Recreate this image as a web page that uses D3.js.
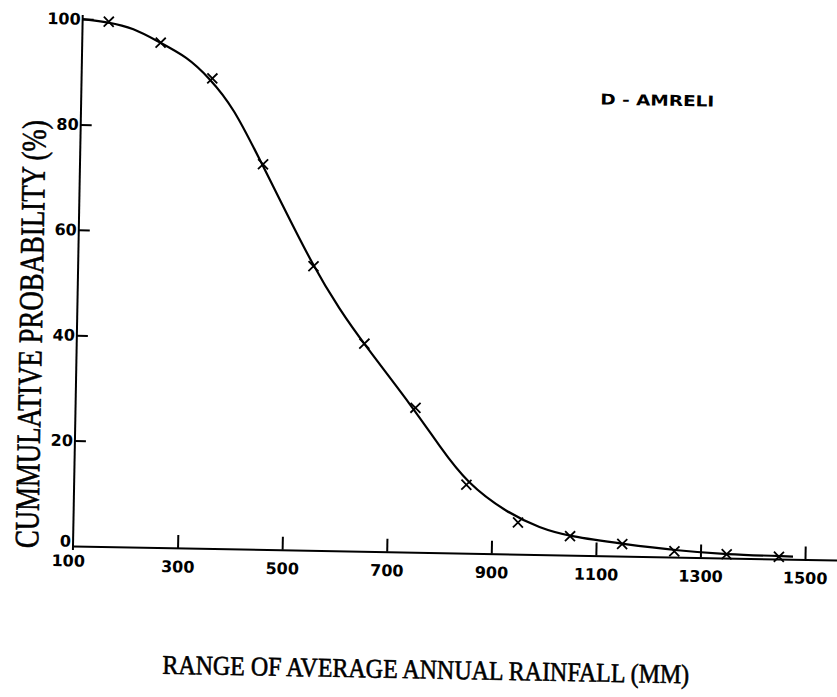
<!DOCTYPE html>
<html lang="en">
<head>
<meta charset="utf-8">
<script src="https://d3js.org/d3.v7.min.js"></script>
<style>
  body { margin: 0; background: #fff; }
  .axis path, .axis line { stroke: #000; stroke-width: 2px; }
  .axis text {
    font-family: "DejaVu Sans", sans-serif;
    font-weight: bold;
    font-size: 16px;
    fill: #000;
  }
  .title {
    font-family: "Liberation Serif", serif;
    fill: #000;
    stroke: #000;
    stroke-width: 0.6px;
  }
  .note {
    font-family: "DejaVu Sans", sans-serif;
    font-weight: bold;
    font-size: 15px;
    fill: #000;
  }
</style>
</head>
<body>
<div id="chart"></div>
<script>
// rainfall class points (mm) and cumulative probability (%)
var rainfall    = [150, 250, 350, 450, 550, 650, 750, 850, 950, 1050, 1150, 1250, 1350, 1450];
var probability = [99.6, 95.8, 89.2, 73.1, 53.9, 39.4, 27.4, 13.0, 6.0, 3.6, 2.3, 1.1, 0.7, 0.4];

// fitted curve as drawn on the sheet
var fitX = [100, 149, 197, 247, 301, 344, 391, 448, 484, 549, 602, 648, 744, 798, 851, 929, 993, 1046, 1152, 1261, 1343, 1477];
var fitY = [100, 99.5, 98.5, 95.9, 93.2, 89.3, 83.9, 73.1, 66.3, 54.0, 45.7, 39.5, 27.6, 20.1, 13.3, 7.8, 5.0, 3.6, 2.3, 1.2, 0.7, 0.5];

var xTicks = [100, 300, 500, 700, 900, 1100, 1300, 1500];
var yTicks = [0, 20, 40, 60, 80, 100];

var width = 837, height = 697;
var origin = { x: 73, y: 546 };   // bottom-left corner of the plot
var tilt = 1.05;                   // the scanned page is slightly rotated

var svg = d3.select("#chart").append("svg")
    .attr("width", width)
    .attr("height", height);

var g = svg.append("g")
    .attr("transform", "translate(" + origin.x + "," + origin.y + ") rotate(" + tilt + ")");

var x = d3.scaleLinear().domain([100, 1561]).range([0, 764]);
var y = d3.scaleLinear().domain([0, 100]).range([0, -527]);

// x axis, ticks pointing up
var xAxis = g.append("g")
    .attr("class", "axis")
    .call(d3.axisBottom(x).tickValues(xTicks).tickSize(-13).tickSizeOuter(0).tickFormat(d3.format("d")));
xAxis.selectAll(".tick text").attr("y", 13).attr("dy", "0.71em");
xAxis.selectAll(".tick").filter(function(d) { return d === 100; })
    .select("line").remove();
xAxis.selectAll(".tick").filter(function(d) { return d === 100; })
    .select("text").attr("x", -5).attr("y", 9);

// y axis, ticks pointing right
var yAxis = g.append("g")
    .attr("class", "axis")
    .call(d3.axisLeft(y).tickValues(yTicks).tickSize(-11).tickSizeOuter(0));
yAxis.selectAll(".tick text").attr("x", -2);
yAxis.selectAll(".tick").filter(function(d) { return d === 0; }).select("line").remove();
yAxis.selectAll(".tick").filter(function(d) { return d === 0; }).select("text").attr("y", -5);
yAxis.select(".domain").attr("d", "M0,4V-531");

// fitted curve
var line = d3.line()
    .x(function(d, i) { return x(d); })
    .y(function(d, i) { return y(fitY[i]); })
    .curve(d3.curveBasis);

g.append("path")
    .datum(fitX)
    .attr("fill", "none")
    .attr("stroke", "#000")
    .attr("stroke-width", 2.2)
    .attr("d", line);

// cross markers
var marks = g.selectAll(".mark")
    .data(rainfall)
    .enter().append("g")
    .attr("class", "mark")
    .attr("transform", function(d, i) { return "translate(" + x(d) + "," + y(probability[i]) + ")"; });
marks.append("path")
    .attr("d", "M-5,-5L5,5M-5,5L5,-5")
    .attr("stroke", "#000")
    .attr("stroke-width", 1.8);

// axis titles
g.append("text")
    .attr("class", "title")
    .attr("x", 355)
    .attr("y", 126)
    .attr("text-anchor", "middle")
    .attr("font-size", 27)
    .attr("textLength", 527)
    .attr("lengthAdjust", "spacingAndGlyphs")
    .text("RANGE OF AVERAGE ANNUAL RAINFALL (MM)");

g.append("text")
    .attr("class", "title")
    .attr("transform", "translate(-35,-211) rotate(-90)")
    .attr("text-anchor", "middle")
    .attr("font-size", 34)
    .attr("textLength", 428)
    .attr("lengthAdjust", "spacingAndGlyphs")
    .text("CUMMULATIVE PROBABILITY (%)");

g.append("text")
    .attr("class", "note")
    .attr("x", 576)
    .attr("y", -451)
    .attr("text-anchor", "middle")
    .attr("textLength", 114)
    .attr("lengthAdjust", "spacingAndGlyphs")
    .text("D - AMRELI");
</script>
</body>
</html>
